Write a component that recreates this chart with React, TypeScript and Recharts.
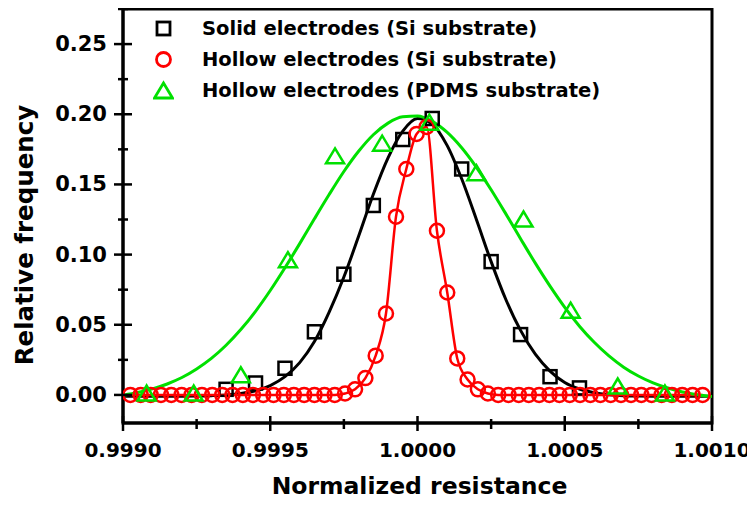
import { ComposedChart, Line, Scatter, XAxis, YAxis, ReferenceArea } from 'recharts'

const FONT = "'DejaVu Sans', sans-serif"
const RED = '#ff0000'
const GREEN = '#00e000'

// axis ticks
const xMajor = [0.999, 0.9995, 1.0, 1.0005, 1.001]
const xMinor = [0.99925, 0.99975, 1.00025, 1.00075]
const yMajor = [0, 0.05, 0.1, 0.15, 0.2, 0.25]
const yMinor = [0.025, 0.075, 0.125, 0.175, 0.225, 0.275]

// solid electrodes (Si) - squares
const solidX = [0.99935, 0.99945, 0.99955, 0.99965, 0.99975, 0.99985, 0.99995, 1.00005, 1.00015, 1.00025, 1.00035, 1.00045, 1.00055]
const solidY = [0.004, 0.0085, 0.019, 0.045, 0.086, 0.135, 0.182, 0.197, 0.161, 0.095, 0.043, 0.013, 0.005]

// hollow electrodes (Si) - circles
const hollowX = [
  0.999025, 0.99906, 0.999094, 0.999129, 0.999164, 0.999199, 0.999233, 0.999268, 0.999303, 0.999337,
  0.999372, 0.999407, 0.999441, 0.999476, 0.999511, 0.999546, 0.99958, 0.999615, 0.99965, 0.999684,
  0.999719, 0.999754, 0.999788, 0.999823, 0.999858, 0.999893, 0.999927, 0.999962, 0.999997, 1.000031,
  1.000066, 1.000101, 1.000135, 1.00017, 1.000205, 1.000239, 1.000274, 1.000309, 1.000344, 1.000378,
  1.000413, 1.000448, 1.000482, 1.000517, 1.000552, 1.000587, 1.000621, 1.000656, 1.000691, 1.000725,
  1.00076, 1.000795, 1.000829, 1.000864, 1.000899, 1.000934, 1.000968,
]
const hollowY = [
  0, 0, 0, 0, 0, 0, 0, 0, 0, 0,
  0, 0, 0, 0, 0, 0, 0, 0, 0, 0,
  0, 0.001, 0.004, 0.012, 0.028, 0.058, 0.127, 0.161, 0.186, 0.191,
  0.117, 0.073, 0.026, 0.011, 0.004, 0.001, 0, 0, 0, 0,
  0, 0, 0, 0, 0, 0, 0, 0, 0, 0,
  0, 0, 0, 0, 0, 0, 0,
]

// hollow electrodes (PDMS) - triangles
const pdmsX = [0.99908, 0.99924, 0.9994, 0.99956, 0.99972, 0.99988, 1.00004, 1.0002, 1.00036, 1.00052, 1.00068, 1.00084]
const pdmsY = [0.001, 0.001, 0.014, 0.096, 0.17, 0.179, 0.194, 0.158, 0.125, 0.06, 0.006, 0.001]

// fitted curves
const fitX = [
  0.999, 0.99905, 0.9991, 0.99915, 0.9992, 0.99925, 0.9993, 0.99935, 0.9994, 0.99945,
  0.9995, 0.99955, 0.9996, 0.99965, 0.9997, 0.99975, 0.9998, 0.99985, 0.9999, 0.99995,
  1.0, 1.00005, 1.0001, 1.00015, 1.0002, 1.00025, 1.0003, 1.00035, 1.0004, 1.00045,
  1.0005, 1.00055, 1.0006, 1.00065, 1.0007, 1.00075, 1.0008, 1.00085, 1.0009, 1.00095, 1.001,
]
const solidFitY = [
  -0.001, -0.001, -0.001, -0.001, -0.0009, -0.0008, -0.0005, 0, 0.001, 0.003,
  0.0067, 0.013, 0.023, 0.038, 0.059, 0.084, 0.113, 0.143, 0.169, 0.188,
  0.197, 0.193, 0.178, 0.154, 0.125, 0.095, 0.068, 0.046, 0.029, 0.017,
  0.0088, 0.0042, 0.0016, 0.0002, -0.0005, -0.0008, -0.0009, -0.001, -0.001, -0.001, -0.001,
]
const pdmsFitY = [
  -0.0002, 0.0017, 0.0043, 0.0078, 0.0124, 0.0185, 0.026, 0.0354, 0.0466, 0.0596,
  0.0744, 0.0906, 0.1078, 0.1255, 0.1428, 0.1592, 0.1736, 0.1854, 0.1937, 0.1982,
  0.1987, 0.1949, 0.1872, 0.1761, 0.1622, 0.1462, 0.129, 0.1113, 0.0939, 0.0775,
  0.0624, 0.049, 0.0375, 0.0278, 0.0198, 0.0135, 0.0086, 0.0049, 0.0021, 0.0002, -0.0012,
]

const solid = solidX.map((x, i) => ({ x, y: solidY[i] }))
const hollow = hollowX.map((x, i) => ({ x, y: hollowY[i] }))
const pdms = pdmsX.map((x, i) => ({ x, y: pdmsY[i] }))
const solidFit = fitX.map((x, i) => ({ x, y: solidFitY[i] }))
const pdmsFit = fitX.map((x, i) => ({ x, y: pdmsFitY[i] }))

const xTicks = [...xMajor, ...xMinor].sort((a, b) => a - b)
const yTicks = [...yMajor, ...yMinor].sort((a, b) => a - b)

const XTick = ({ x, y, payload }: any) => {
  const major = xMajor.includes(payload.value)
  return (
    <g>
      <line x1={x} x2={x} y1={y - (major ? 7 : 4)} y2={y + (major ? 8 : 6)} stroke='#000' strokeWidth={2.5} />
      {major && (
        <text x={x} y={y + 27} textAnchor='middle' dominantBaseline='central'
          fontFamily={FONT} fontWeight='bold' fontSize={20} fill='#000'>
          {payload.value.toFixed(4)}
        </text>
      )}
    </g>
  )
}

const YTick = ({ x, y, payload }: any) => {
  const major = yMajor.includes(payload.value)
  return (
    <g>
      <line x1={x - (major ? 9 : 5)} x2={x + (major ? 9 : 5)} y1={y} y2={y} stroke='#000' strokeWidth={2.5} />
      {major && (
        <text x={x - 16} y={y} textAnchor='end' dominantBaseline='central'
          fontFamily={FONT} fontWeight='bold' fontSize={21} fill='#000'>
          {payload.value.toFixed(2)}
        </text>
      )}
    </g>
  )
}

const Square = ({ cx, cy }: any) => (
  <rect x={cx - 6.5} y={cy - 6.5} width={13} height={13} fill='none' stroke='#000' strokeWidth={2.5} />
)
const Triangle = ({ cx, cy }: any) => (
  <polygon points={`${cx},${cy - 8} ${cx - 9},${cy + 7} ${cx + 9},${cy + 7}`}
    fill='none' stroke={GREEN} strokeWidth={2.5} />
)

const legendItems = [
  { label: 'Solid electrodes (Si substrate)', icon: <rect x={4} y={4} width={13} height={13} fill='none' stroke='#000' strokeWidth={2.8} /> },
  { label: 'Hollow electrodes (Si substrate)', icon: <circle cx={10.5} cy={10.5} r={7} fill='none' stroke={RED} strokeWidth={2.8} /> },
  { label: 'Hollow electrodes (PDMS substrate)', icon: <polygon points='10.5,3 1.5,18 19.5,18' fill='none' stroke={GREEN} strokeWidth={2.8} /> },
]

export default function App() {
  return (
    <div style={{ position: 'relative', width: 747, height: 499 }}>
      <ComposedChart width={747} height={499} margin={{ top: 1, right: 43, left: 0, bottom: 24 }}>
        <XAxis dataKey='x' type='number' domain={[0.999, 1.001]} allowDataOverflow
          ticks={xTicks} interval={0} tickSize={0} tickMargin={0} tickLine={false}
          axisLine={{ stroke: '#000', strokeWidth: 3 }} tick={<XTick />} height={60}
          label={({ viewBox }: any) => (
            <text x={viewBox.x + viewBox.width / 2 + 2} y={viewBox.y + 63} textAnchor='middle'
              dominantBaseline='central' fontFamily={FONT} fontWeight='bold' fontSize={23.5} fill='#000'>
              Normalized resistance
            </text>
          )} />
        <YAxis type='number' domain={[-0.02, 0.275]} allowDataOverflow
          ticks={yTicks} interval={0} tickSize={0} tickMargin={0} tickLine={false}
          axisLine={{ stroke: '#000', strokeWidth: 3 }} tick={<YTick />} width={115}
          label={({ viewBox }: any) => {
            const cx = viewBox.x + 16
            const cy = viewBox.y + viewBox.height / 2 + 19
            return (
              <text x={cx} y={cy} transform={`rotate(-90 ${cx} ${cy})`} textAnchor='middle'
                dominantBaseline='central' fontFamily={FONT} fontWeight='bold' fontSize={24.5} fill='#000'>
                Relative frequency
              </text>
            )
          }} />

        {/* plot frame */}
        <ReferenceArea x1={0.999} x2={1.001} y1={-0.02} y2={0.275} fill='none'
          stroke='#000' strokeWidth={3} ifOverflow='visible' />

        <Line data={solidFit} dataKey='y' type='monotone' stroke='#000' strokeWidth={3}
          dot={false} activeDot={false} isAnimationActive={false} />
        <Scatter data={solid} dataKey='y' shape={<Square />} isAnimationActive={false} />
        <Line data={hollow} dataKey='y' type='monotone' stroke={RED} strokeWidth={2.5}
          dot={{ r: 7, stroke: RED, strokeWidth: 2.5, fill: 'none' }} activeDot={false}
          isAnimationActive={false} />
        <Line data={pdmsFit} dataKey='y' type='monotone' stroke={GREEN} strokeWidth={3}
          dot={false} activeDot={false} isAnimationActive={false} />
        <Scatter data={pdms} dataKey='y' shape={<Triangle />} isAnimationActive={false} />
      </ComposedChart>

      <div style={{ position: 'absolute', left: 145, top: 5, fontFamily: FONT, fontWeight: 'bold', fontSize: 19.5 }}>
        {legendItems.map((it) => (
          <div key={it.label} style={{ display: 'flex', alignItems: 'center', height: 31 }}>
            <svg width={21} height={21} style={{ marginRight: 28 }}>{it.icon}</svg>
            <span>{it.label}</span>
          </div>
        ))}
      </div>
    </div>
  )
}
